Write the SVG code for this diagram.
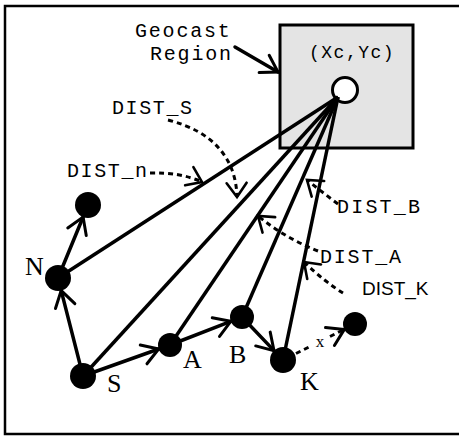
<svg xmlns="http://www.w3.org/2000/svg" width="459" height="436" viewBox="0 0 459 436">
<style>
.mono{font-family:"Liberation Mono","Courier New",monospace;font-size:20px;letter-spacing:1.6px;fill:#000}
.serif{font-family:"Liberation Serif","Times New Roman",serif;font-size:26px;fill:#000}
.sans{font-family:"Liberation Sans",Arial,sans-serif;font-size:19px;fill:#000}
.edge{stroke:#000;stroke-width:3.5;fill:none;stroke-linecap:round}
.ray{stroke:#000;stroke-width:3.5;fill:none}
.dash{stroke:#000;stroke-width:3;fill:none;stroke-dasharray:5 4}
.node{fill:#000}
</style>
<defs>
<marker id="chev" markerUnits="userSpaceOnUse" markerWidth="40" markerHeight="40" viewBox="-20 -20 40 40" refX="0" refY="0" orient="auto" overflow="visible">
<path d="M-16,-10 L0,0 L-16,10" fill="none" stroke="#000" stroke-width="3" stroke-linecap="round"/>
</marker>
<marker id="chevs" markerUnits="userSpaceOnUse" markerWidth="40" markerHeight="40" viewBox="-20 -20 40 40" refX="0" refY="0" orient="auto" overflow="visible">
<path d="M-14,-10 L0,0 L-14,10" fill="none" stroke="#000" stroke-width="2.6" stroke-linecap="round"/>
</marker>
</defs>
<rect x="0" y="0" width="459" height="436" fill="#fff"/>
<path d="M459,6 H5 V434 H459" fill="none" stroke="#000" stroke-width="2.5"/>

<g id="region">
<rect x="280" y="25" width="133" height="123" fill="#e4e4e4" stroke="#000" stroke-width="3"/>
<text class="mono" x="309" y="58" style="font-size:18px;letter-spacing:1.5px">(Xc,Yc)</text>
<circle cx="345" cy="90" r="12.5" fill="#fff" stroke="#000" stroke-width="3"/>
</g>

<g id="label-geocast">
<text class="mono" x="135" y="37" style="letter-spacing:1.8px">Geocast</text>
<text class="mono" x="150" y="60" style="letter-spacing:1.8px">Region</text>
</g>

<g id="connectors">
<line class="ray" x1="338" y1="97" x2="58" y2="278"/>
<line class="ray" x1="338" y1="97" x2="83" y2="376"/>
<line class="ray" x1="338" y1="97" x2="170" y2="345"/>
<line class="ray" x1="338" y1="97" x2="242" y2="317"/>
<line class="ray" x1="338" y1="97" x2="283" y2="360"/>
<line class="edge" x1="235" y1="47" x2="278" y2="72" marker-end="url(#chev)"/>
<line class="edge" x1="83" y1="376" x2="61.2" y2="290.6" marker-end="url(#chev)"/>
<line class="edge" x1="58" y1="278" x2="83.1" y2="217" marker-end="url(#chev)"/>
<line class="edge" x1="83" y1="376" x2="158.7" y2="349" marker-end="url(#chev)"/>
<line class="edge" x1="170" y1="345" x2="230.8" y2="321.3" marker-end="url(#chev)"/>
<line class="edge" x1="242" y1="317" x2="274" y2="350.6" marker-end="url(#chev)"/>
<line class="dash" x1="296" y1="353.5" x2="310" y2="346.5"/>
<line class="dash" x1="330" y1="336.5" x2="344.3" y2="329.4" marker-end="url(#chev)"/>
<path class="dash" d="M150,173 Q180,172 202,182" marker-end="url(#chevs)"/>
<path class="dash" d="M168,120 C215,132 236,160 237,197" marker-end="url(#chevs)"/>
<path class="dash" d="M338,204 Q322,192 307,180" marker-end="url(#chevs)"/>
<path class="dash" d="M318,251 Q285,238 258,216" marker-end="url(#chevs)"/>
<path class="dash" d="M343,293 Q325,282 304,262" marker-end="url(#chevs)"/>
</g>

<g id="node-N"><circle class="node" cx="58" cy="278" r="13"/><text class="serif" x="25" y="275">N</text></g>
<g id="node-N2"><circle class="node" cx="88" cy="205" r="13"/></g>
<g id="node-S"><circle class="node" cx="83" cy="376" r="13"/><text class="serif" x="107" y="392">S</text></g>
<g id="node-A"><circle class="node" cx="170" cy="345" r="12"/><text class="serif" x="183" y="368">A</text></g>
<g id="node-B"><circle class="node" cx="242" cy="317" r="12"/><text class="serif" x="229" y="363">B</text></g>
<g id="node-K"><circle class="node" cx="283" cy="360" r="13"/><text class="serif" x="300" y="390">K</text></g>
<g id="node-X"><circle class="node" cx="355" cy="324" r="12"/></g>
<g id="label-x"><text class="serif" x="320" y="347" text-anchor="middle" style="font-size:17px">x</text></g>

<g id="dist-labels">
<text class="mono" x="112" y="114">DIST_S</text>
<text class="mono" x="67" y="177">DIST_n</text>
<text class="mono" x="337" y="213" style="letter-spacing:2.2px">DIST_B</text>
<text class="mono" x="320" y="263" style="letter-spacing:1.8px">DIST_A</text>
<text class="sans" x="362" y="295">DIST_K</text>
</g>
</svg>
